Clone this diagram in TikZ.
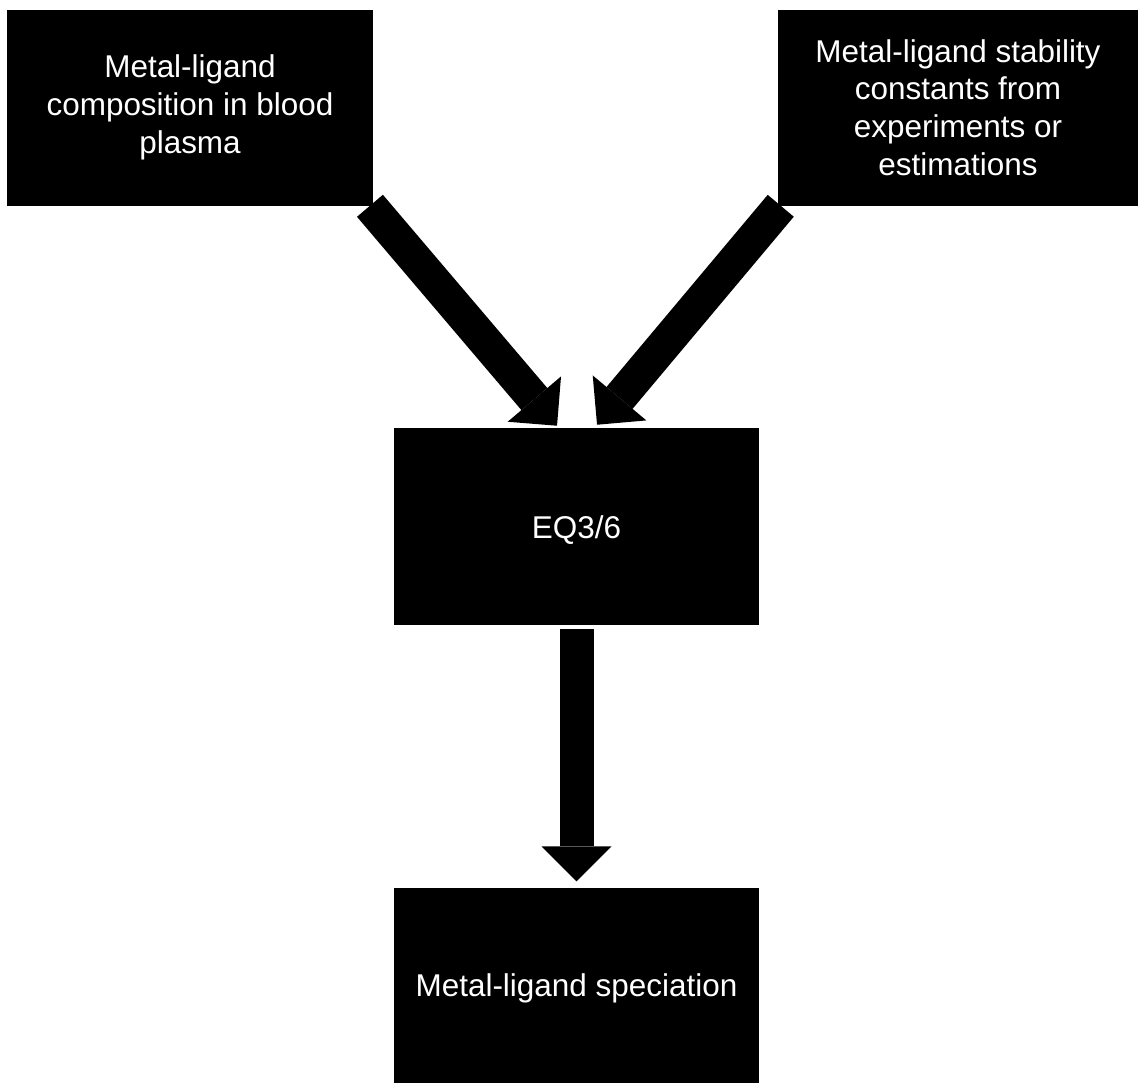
\documentclass[tikz,border=0pt]{standalone}
\usepackage{fontspec}
\setmainfont{Liberation Sans}
\usetikzlibrary{arrows.meta,positioning}
\begin{document}
\begin{tikzpicture}[x=0.75pt,y=-0.75pt]
	\tikzstyle{box}=[rectangle,fill=black,text=white,align=center,inner sep=0pt,font=\fontsize{23.6}{28.3}\selectfont,execute at begin node={\rule{0pt}{22.5pt}}]
	\tikzstyle{wide}=[minimum width=274pt,minimum height=147pt]
	\tikzstyle{fat}=[draw=black,line width=25.5pt,-{Triangle[length=26.25pt,width=52.5pt,line width=0pt]}] % block arrow
	\useasboundingbox (0,0) rectangle (1138,1082);
	% input boxes
	\node(plasma)[box,wide] at (190,107.5) {Metal-ligand\\composition in blood\\plasma};
	\node(consts)[box,wide,minimum width=270pt] at (958,107.5) {Metal-ligand stability\\constants from\\experiments or\\estimations};
	% solver and result
	\node(eq)[box,wide,minimum width=273.75pt,minimum height=147.75pt] at (576.5,526.5) {EQ3/6};
	\node(spec)[box,wide,minimum width=273.75pt,minimum height=146.25pt,below=196.5pt of eq] {Metal-ligand speciation};
	% arrows
	\draw[fat]([xshift=-2.25pt]plasma.south east)--([xshift=-14.6pt,yshift=1.5pt]eq.north);
	\draw[fat]([xshift=2.25pt]consts.south west)--([xshift=15.4pt,yshift=2.25pt]eq.north);
	\draw[fat]([yshift=-3pt]eq.south)--([yshift=4.5pt]spec.north);
\end{tikzpicture}
\end{document}
